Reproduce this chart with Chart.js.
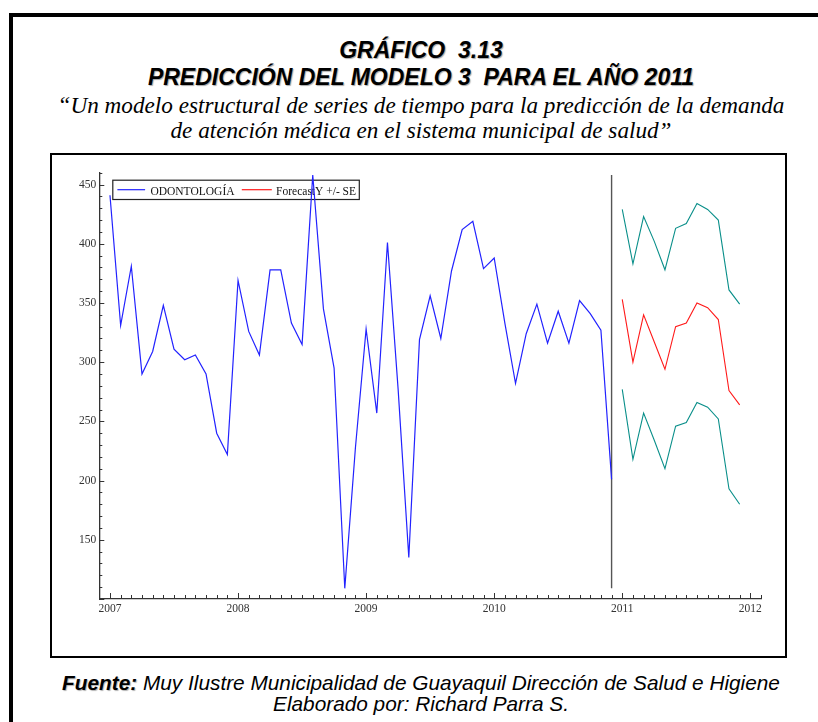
<!DOCTYPE html>
<html>
<head>
<meta charset="utf-8">
<script src="https://cdn.jsdelivr.net/npm/chart.js@4.4.0/dist/chart.umd.min.js"></script>
<style>
html,body{margin:0;padding:0;background:#fff;width:818px;height:722px;overflow:hidden;position:relative;}
#outer{position:absolute;left:9px;top:13px;width:900px;height:800px;border:4px solid #000;box-sizing:border-box;}
.t{position:absolute;left:0;width:842px;text-align:center;white-space:pre;line-height:1;color:#000;}
.h{font-family:"Liberation Sans",Arial,sans-serif;font-weight:bold;font-style:italic;font-size:23px;text-shadow:1px 1px 1px rgba(0,0,0,0.35);}
.s{font-family:"Liberation Serif","Times New Roman",serif;font-style:italic;font-size:23.2px;}
.f{font-family:"Liberation Sans",Arial,sans-serif;font-style:italic;font-size:20.8px;}
.f b{font-weight:bold;text-shadow:1px 1px 1px rgba(0,0,0,0.3);}
#box{position:absolute;left:50px;top:153px;width:737px;height:505px;border:2px solid #000;box-sizing:border-box;}
#box canvas{position:absolute;left:0;top:0;}
</style>
</head>
<body>
<div id="outer"></div>
<div class="t h" style="top:39px;">GRÁFICO  3.13</div>
<div class="t h" style="top:66px;">PREDICCIÓN DEL MODELO 3  PARA EL AÑO 2011</div>
<div class="t s" style="top:94px;">“Un modelo estructural de series de tiempo para la predicción de la demanda</div>
<div class="t s" style="top:119px;">de atención médica en el sistema municipal de salud”</div>
<div id="box"><canvas id="c" width="733" height="501"></canvas></div>
<div class="t f" style="top:673px;"><b>Fuente:</b> Muy Ilustre Municipalidad de Guayaquil Dirección de Salud e Higiene</div>
<div class="t f" style="top:694px;">Elaborado por: Richard Parra S.</div>
<script>
// ---- data ----
const startYear = 2007;
const forecastStartYear = 2011;
const yearTicks = [2007, 2008, 2009, 2010, 2011, 2012];
const yTickLabels = [150, 200, 250, 300, 350, 400, 450];
const odontologia = [
  441, 331, 381, 290, 309, 348, 311, 302, 306, 290, 240, 222,
  369, 326, 306, 378, 378, 333, 315, 458, 345, 295, 109, 228,
  328, 257, 401, 277, 135, 319, 356, 320, 377, 412, 419, 379,
  388, 333, 282, 324, 349, 316, 343, 316, 352, 341, 327, 201
];
const forecastY = [353, 300, 340, 317, 294, 330, 333, 350, 346, 336, 276, 264];
const forecastUpper = [429, 383, 423, 402, 378, 413, 417, 434, 429, 420, 361, 349];
const forecastLower = [277, 218, 257, 234, 210, 246, 249, 266, 262, 252, 193, 180];

// ---- build ----
const toPoints = (arr, start) => arr.map((v, i) => ({x: start + i / 12, y: v}));
const lastX = startYear + (odontologia.length - 1) / 12;
const divider = [
  {x: lastX, y: Math.min(...odontologia)},
  {x: lastX, y: Math.max(...odontologia)}
];

const serif = '"Liberation Serif", "Times New Roman", serif';

const tickMarks = {
  id: 'tickMarks',
  afterDraw(chart) {
    const {ctx, scales: {x, y}, chartArea: a} = chart;
    ctx.save();
    ctx.strokeStyle = '#333';
    ctx.lineWidth = 1;
    ctx.beginPath();
    for (let v = y.min; v <= y.max + 0.001; v += 10) {
      const py = Math.round(y.getPixelForValue(v)) + 0.5;
      const len = (v % 50 === 0) ? 5 : 3;
      ctx.moveTo(a.left, py); ctx.lineTo(a.left + len, py);
    }
    const m0 = Math.ceil((x.min - startYear) * 12 - 1e-6);
    const m1 = Math.floor((x.max - startYear) * 12 + 1e-6);
    for (let m = m0; m <= m1; m++) {
      const px = Math.round(x.getPixelForValue(startYear + m / 12)) + 0.5;
      const len = (m % 12 === 0) ? 6 : 4;
      ctx.moveTo(px, a.bottom); ctx.lineTo(px, a.bottom - len);
    }
    ctx.stroke();
    ctx.restore();
  }
};

const boxLegend = {
  id: 'boxLegend',
  beforeDatasetsDraw(chart) {
    const {ctx, chartArea: a} = chart;
    const x0 = a.left + 13.5, y0 = a.top + 7.5, w = 246.5, h = 19.3;
    ctx.save();
    ctx.strokeStyle = '#222';
    ctx.lineWidth = 1.2;
    ctx.strokeRect(x0, y0, w, h);
    ctx.font = '11.5px ' + serif;
    ctx.fillStyle = '#111';
    ctx.textBaseline = 'alphabetic';
    const items = [
      {ds: 0, l0: 4.6, l1: 32.3, tx: 37.6},
      {ds: 2, l0: 129, l1: 159, tx: 163.3}
    ];
    items.forEach(it => {
      const d = chart.data.datasets[it.ds];
      ctx.strokeStyle = d.borderColor;
      ctx.lineWidth = 1.2;
      ctx.beginPath();
      ctx.moveTo(x0 + it.l0, y0 + 9.5);
      ctx.lineTo(x0 + it.l1, y0 + 9.5);
      ctx.stroke();
      ctx.fillText(d.label, x0 + it.tx, y0 + 14.5);
    });
    ctx.restore();
  }
};

new Chart(document.getElementById('c'), {
  type: 'line',
  data: {
    datasets: [
      {label: 'ODONTOLOGÍA', data: toPoints(odontologia, startYear), borderColor: '#2222ff', borderWidth: 1.2},
      {label: '', data: divider, borderColor: '#555', borderWidth: 1.4},
      {label: 'ForecastY +/- SE', data: toPoints(forecastY, forecastStartYear), borderColor: '#ff1a1a', borderWidth: 1.1},
      {label: 'upper', data: toPoints(forecastUpper, forecastStartYear), borderColor: '#0a8f8a', borderWidth: 1.1},
      {label: 'lower', data: toPoints(forecastLower, forecastStartYear), borderColor: '#0a8f8a', borderWidth: 1.1}
    ]
  },
  options: {
    responsive: false,
    animation: false,
    devicePixelRatio: 1,
    elements: {point: {radius: 0, hoverRadius: 0}, line: {tension: 0, fill: false}},
    layout: {padding: {top: 17.7, right: 24, bottom: 37, left: 0}},
    plugins: {legend: {display: false}, tooltip: {enabled: false}},
    scales: {
      x: {
        type: 'linear',
        min: yearTicks[0] - 1 / 12,
        max: yearTicks[yearTicks.length - 1] + 1 / 12,
        afterBuildTicks: s => { s.ticks = yearTicks.map(v => ({value: v})); },
        afterFit: s => { s.height = 20; },
        grid: {display: false, drawTicks: false},
        border: {display: true, color: '#333', width: 1.3},
        ticks: {callback: v => String(v), color: '#333', font: {family: serif, size: 11.5}, padding: 3, maxRotation: 0, autoSkip: false}
      },
      y: {
        type: 'linear',
        min: 100,
        max: 460,
        afterBuildTicks: s => { s.ticks = yTickLabels.map(v => ({value: v})); },
        afterFit: s => { s.width = 47.3; },
        grid: {display: false, drawTicks: false},
        border: {display: true, color: '#333', width: 1.3},
        ticks: {callback: v => String(v), color: '#333', font: {family: serif, size: 11.5}, padding: 3}
      }
    }
  },
  plugins: [boxLegend, tickMarks]
});
</script>
</body>
</html>
